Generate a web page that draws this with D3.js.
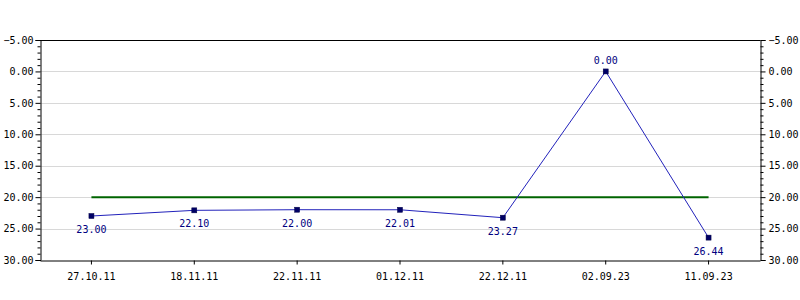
<!DOCTYPE html>
<html><head><meta charset="utf-8">
<script src="https://cdn.jsdelivr.net/npm/d3@7"></script>
<style>body{margin:0;background:#fff}svg{display:block}</style>
</head><body>
<svg id="c" width="800" height="300"></svg>
<script>
const categories = ["27.10.11","18.11.11","22.11.11","01.12.11","22.12.11","02.09.23","11.09.23"];
const values = [23.00, 22.10, 22.00, 22.01, 23.27, 0.00, 26.44];
const referenceValue = 20;
const yTicks = [-5, 0, 5, 10, 15, 20, 25, 30];

const svg = d3.select("#c");
const L = 40, R = 760, T = 40, B = 260;
const font = "DejaVu Sans Mono";
const x = d3.scaleBand().domain(categories).range([L, R]);
const cx = d => x(d) + x.bandwidth() / 2;
const y = d3.scaleLinear().domain([-5, 30]).range([T, B]);

// grid
svg.append("g").selectAll("line").data(yTicks.slice(1, -1)).join("line")
  .attr("x1", L).attr("x2", R).attr("y1", d => Math.round(y(d)) + 0.5).attr("y2", d => Math.round(y(d)) + 0.5)
  .attr("stroke", "#d8d8d8").attr("stroke-width", 1);

// top border
svg.append("line").attr("x1", L).attr("x2", R + 0.5).attr("y1", T + 0.5).attr("y2", T + 0.5).attr("stroke", "#000");

const minor = d3.range(-5, 31, 1);
function yAxis(g, orient) {
  const ax = (orient === "left" ? d3.axisLeft(y) : d3.axisRight(y))
    .tickValues(yTicks).tickFormat(d3.format(".2f")).tickSize(5).tickPadding(orient === "left" ? 2 : 3);
  g.call(ax);
  g.select(".domain").attr("stroke", "#000");
  g.selectAll("text").attr("font-family", font).attr("font-size", 10).attr("fill", "#000");
  const axm = (orient === "left" ? d3.axisLeft(y) : d3.axisRight(y))
    .tickValues(minor.filter(v => v % 5 !== 0)).tickSize(3).tickFormat("");
  g.append("g").call(axm).call(s => s.select(".domain").remove());
}
svg.append("g").attr("transform", `translate(${L + 0.5},0)`).call(g => yAxis(g, "left"));
svg.append("g").attr("transform", `translate(${R + 0.5},0)`).call(g => yAxis(g, "right"));

const xg = svg.append("g").attr("transform", `translate(0,${B + 0.5})`)
  .call(d3.axisBottom(x).tickSize(4).tickPadding(8).tickSizeOuter(0));
xg.select(".domain").attr("stroke", "#000");
xg.selectAll("text").attr("font-family", font).attr("font-size", 10).attr("fill", "#000");

// reference line
svg.append("line").attr("x1", cx(categories[0])).attr("x2", cx(categories[categories.length - 1]))
  .attr("y1", y(referenceValue)).attr("y2", y(referenceValue))
  .attr("stroke", "#006400").attr("stroke-width", 2);

// series
const pts = categories.map((c, i) => ({c, v: values[i]}));
svg.append("path").datum(pts)
  .attr("d", d3.line().x(d => cx(d.c)).y(d => y(d.v)))
  .attr("fill", "none").attr("stroke", "#2222bb").attr("stroke-width", 1);
svg.append("g").selectAll("rect").data(pts).join("rect")
  .attr("x", d => cx(d.c) - 2.5).attr("y", d => y(d.v) - 2.5).attr("width", 5).attr("height", 5)
  .attr("fill", "#000066").attr("stroke", "#000044").attr("stroke-width", 0.5);
const vmin = d3.min(values);
svg.append("g").selectAll("text").data(pts).join("text")
  .attr("x", d => cx(d.c)).attr("y", d => d.v === vmin ? y(d.v) - 7 : y(d.v) + 17)
  .attr("text-anchor", "middle").attr("font-family", font).attr("font-size", 10).attr("fill", "#000080")
  .text(d => d3.format(".2f")(d.v));
</script>
</body></html>
